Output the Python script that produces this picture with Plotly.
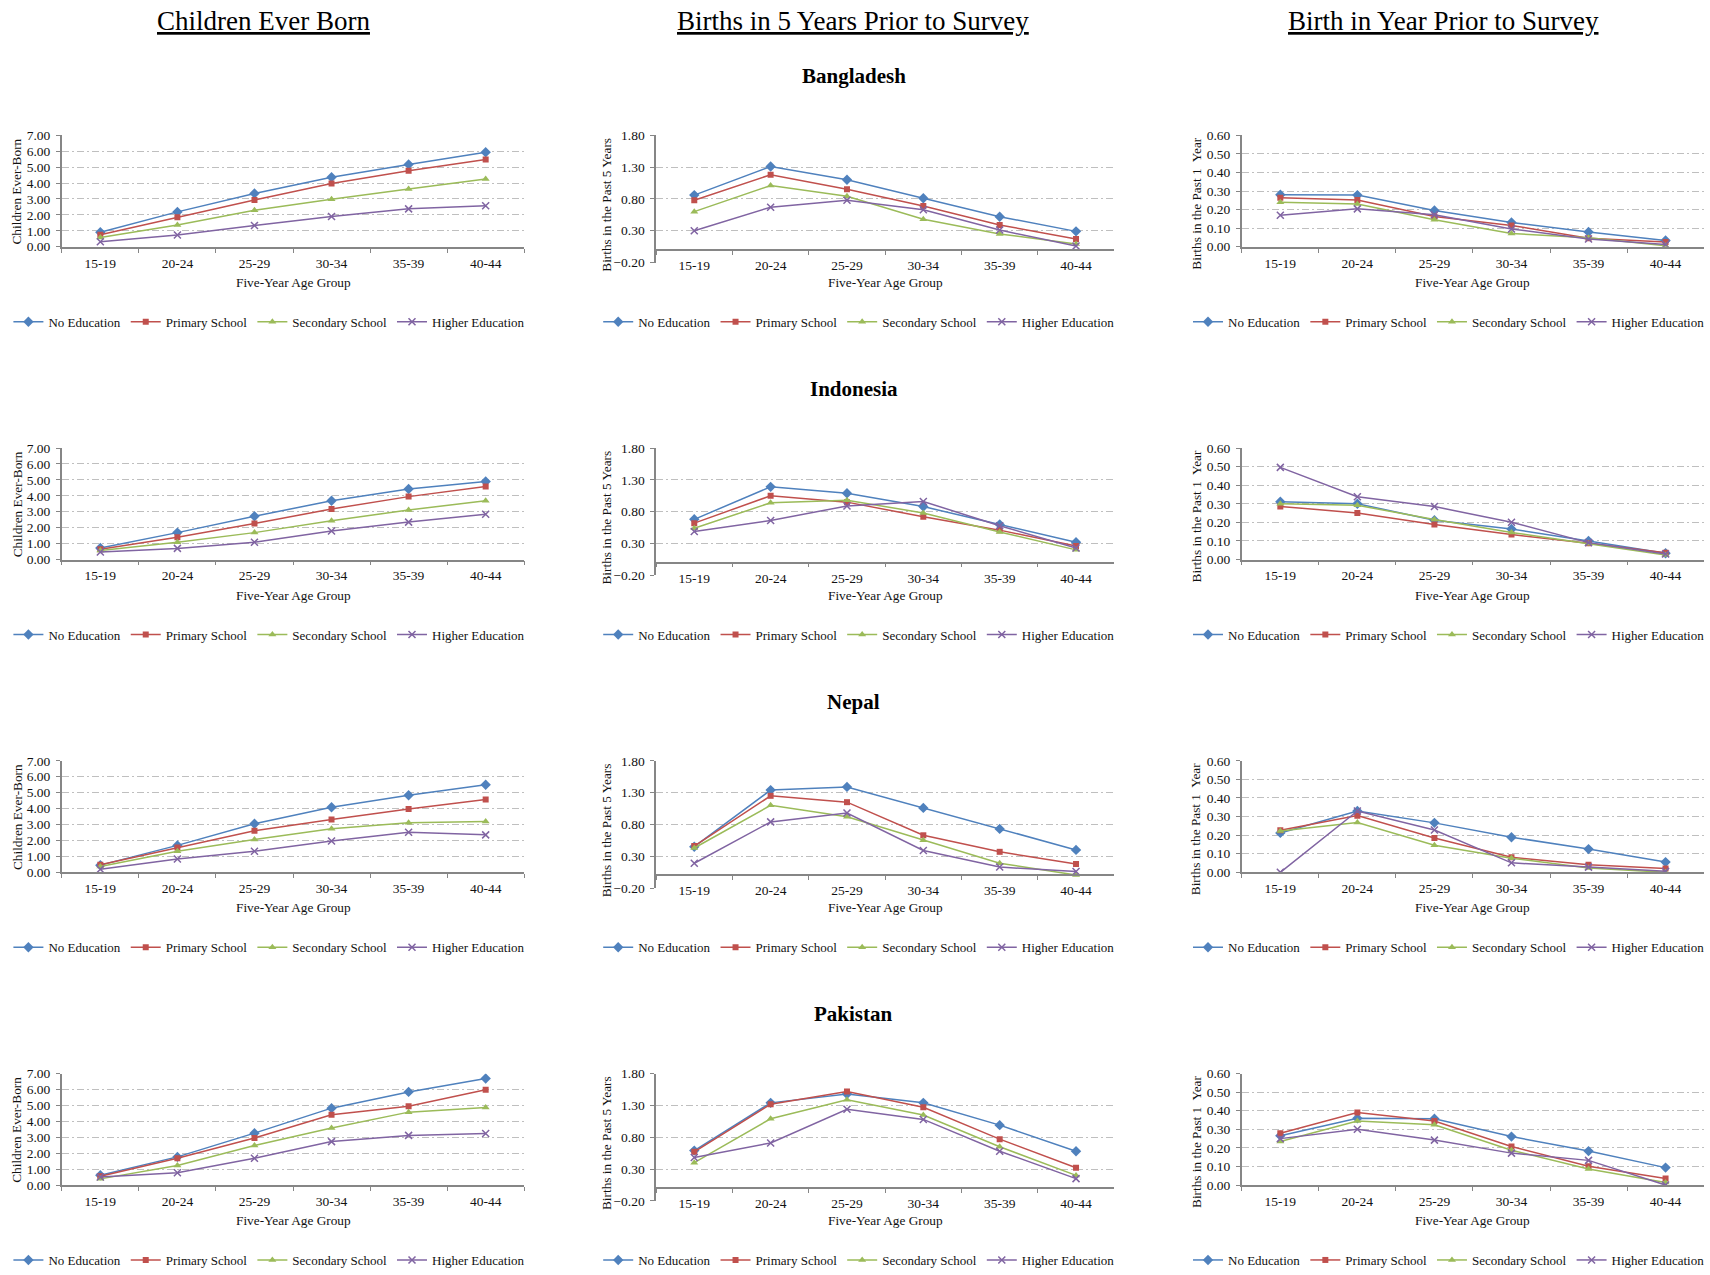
import plotly.graph_objects as go

# ---- categories and labels -------------------------------------------------
age_groups = ["15-19", "20-24", "25-29", "30-34", "35-39", "40-44"]
education_levels = ["No Education", "Primary School", "Secondary School", "Higher Education"]
countries = ["Bangladesh", "Indonesia", "Nepal", "Pakistan"]
column_titles = ["Children Ever Born", "Births in 5 Years Prior to Survey",
                 "Birth in Year Prior to Survey"]
y_titles = ["Children Ever-Born", "Births in the Past 5 Years", "Births in the Past 1  Year"]
x_title = "Five-Year Age Group"

# ---- values: rows follow education_levels, columns follow age_groups -------
bgd_ceb = [[0.91, 2.19, 3.35, 4.36, 5.17, 5.93],
           [0.76, 1.86, 2.93, 3.97, 4.77, 5.48],
           [0.58, 1.36, 2.29, 2.98, 3.62, 4.26],
           [0.31, 0.74, 1.34, 1.90, 2.38, 2.58]]
bgd_b5 = [[0.86, 1.31, 1.10, 0.81, 0.52, 0.29],
          [0.78, 1.18, 0.95, 0.69, 0.39, 0.17],
          [0.60, 1.01, 0.84, 0.48, 0.25, 0.09],
          [0.30, 0.67, 0.78, 0.63, 0.31, 0.06]]
bgd_b1 = [[0.280, 0.278, 0.195, 0.131, 0.080, 0.034],
          [0.264, 0.251, 0.163, 0.115, 0.046, 0.025],
          [0.239, 0.230, 0.145, 0.071, 0.048, 0.005],
          [0.170, 0.204, 0.172, 0.096, 0.042, 0.012]]

idn_ceb = [[0.72, 1.69, 2.72, 3.69, 4.43, 4.90],
           [0.64, 1.40, 2.26, 3.17, 3.95, 4.59],
           [0.56, 1.09, 1.69, 2.43, 3.11, 3.69],
           [0.47, 0.70, 1.09, 1.79, 2.35, 2.84]]
idn_b5 = [[0.68, 1.19, 1.09, 0.88, 0.60, 0.32],
          [0.62, 1.05, 0.95, 0.72, 0.51, 0.26],
          [0.54, 0.94, 0.98, 0.78, 0.48, 0.20],
          [0.49, 0.66, 0.89, 0.96, 0.58, 0.23]]
idn_b1 = [[0.311, 0.300, 0.212, 0.164, 0.100, 0.034],
          [0.286, 0.251, 0.189, 0.135, 0.087, 0.037],
          [0.300, 0.292, 0.215, 0.146, 0.085, 0.025],
          [0.496, 0.338, 0.285, 0.201, 0.091, 0.030]]

npl_ceb = [[0.45, 1.69, 3.05, 4.08, 4.84, 5.50],
           [0.47, 1.56, 2.61, 3.31, 3.97, 4.57],
           [0.37, 1.32, 2.06, 2.74, 3.11, 3.19],
           [0.19, 0.84, 1.32, 1.96, 2.51, 2.35]]
npl_b5 = [[0.45, 1.34, 1.39, 1.06, 0.73, 0.40],
          [0.46, 1.25, 1.15, 0.63, 0.37, 0.18],
          [0.43, 1.10, 0.92, 0.55, 0.19, 0.005],
          [0.19, 0.84, 0.98, 0.39, 0.13, 0.06]]
npl_b1 = [[0.212, 0.330, 0.266, 0.189, 0.125, 0.055],
          [0.226, 0.305, 0.185, 0.081, 0.041, 0.021],
          [0.222, 0.268, 0.146, 0.076, 0.023, 0.000],
          [0.000, 0.330, 0.228, 0.051, 0.028, 0.005]]

pak_ceb = [[0.62, 1.77, 3.26, 4.83, 5.85, 6.69],
           [0.55, 1.68, 2.96, 4.41, 4.95, 5.98],
           [0.39, 1.23, 2.48, 3.59, 4.58, 4.87],
           [0.51, 0.78, 1.68, 2.73, 3.12, 3.24]]
pak_b5 = [[0.59, 1.34, 1.48, 1.34, 0.99, 0.58],
          [0.57, 1.32, 1.52, 1.27, 0.77, 0.32],
          [0.40, 1.09, 1.39, 1.15, 0.65, 0.20],
          [0.48, 0.71, 1.24, 1.08, 0.58, 0.15]]
pak_b1 = [[0.266, 0.359, 0.357, 0.261, 0.183, 0.094],
          [0.279, 0.391, 0.345, 0.208, 0.101, 0.036],
          [0.234, 0.345, 0.325, 0.187, 0.087, 0.014],
          [0.250, 0.300, 0.242, 0.172, 0.133, 0.000]]

panels = [[bgd_ceb, bgd_b5, bgd_b1],
          [idn_ceb, idn_b5, idn_b1],
          [npl_ceb, npl_b5, npl_b1],
          [pak_ceb, pak_b5, pak_b1]]

# ---- styling ----------------------------------------------------------------
W, H = 1710, 1275
FONT = "Liberation Serif"
TXT = "#111111"
AXIS_GRAY = "#868686"
GRID_GRAY = "#BFBFBF"
GRID_DASH = "7px,3px,2px,3px"

series_style = [
    dict(color="#4F81BD", marker=dict(symbol="diamond", size=8, color="#4F81BD")),
    dict(color="#C0504D", marker=dict(symbol="square", size=6, color="#C0504D")),
    dict(color="#9BBB59", marker=dict(symbol="triangle-up", size=7, color="#9BBB59")),
    dict(color="#8064A2", marker=dict(symbol="x-thin", size=7, color="#8064A2",
                                      line=dict(color="#8064A2", width=1.5))),
]

y_ranges = [[0, 7], [-0.2, 1.8], [0, 0.6]]
y_tick0 = [0, -0.2, 0]
y_dtick = [1, 0.5, 0.1]

# pixel geometry of each column / row
col_x = [(61.8, 524.2), (656.1, 1114.2), (1241.8, 1704.1)]
col_h = [113, 129, 113]
ROW_STEP = 317
TOP0 = 130
ytitle_x = [17, 606.4, 1196.3]
ytitle_dy = [57, 70, 69]
legend_cx = [269.4, 859.2, 1449.3]
heading_x = [263.5, 852.8, 1443.5]
COUNTRY_X = 853.5

TICK_SIZE = 13.5
LABEL_SIZE = 13.3


def fx(px):
    return px / W


def fy(py):
    return 1 - py / H


fig = go.Figure()
annotations = []
layout = {}

for r in range(4):
    top = TOP0 + ROW_STEP * r
    for c in range(3):
        k = r * 3 + c + 1
        sfx = "" if k == 1 else str(k)
        x_id, y_id, leg_id = "x" + sfx, "y" + sfx, "legend" + sfx
        x0, x1 = col_x[c]
        bottom = top + col_h[c]
        lo, hi = y_ranges[c]
        zero_px = top + col_h[c] * hi / (hi - lo)

        for s, level in enumerate(education_levels):
            st = series_style[s]
            fig.add_trace(go.Scatter(
                x=age_groups, y=panels[r][c][s], name=level, mode="lines+markers",
                line=dict(color=st["color"], width=1.5), marker=st["marker"],
                xaxis=x_id, yaxis=y_id, legend=leg_id, hoverinfo="skip",
            ))

        xaxis = dict(
            domain=[fx(x0), fx(x1)], type="category", range=[-0.5, 5.5],
            tickson="boundaries", ticks="outside", ticklen=4, tickwidth=1,
            tickcolor=AXIS_GRAY, showline=True, linecolor=AXIS_GRAY, linewidth=1.5,
            showgrid=False, zeroline=False, fixedrange=True,
            tickfont=dict(family=FONT, size=TICK_SIZE, color=TXT), ticklabelstandoff=3,
        )
        if c == 1:
            # category axis crosses the value axis at zero
            xaxis.update(anchor="free", position=fy(zero_px))
        else:
            xaxis.update(anchor=y_id)
        layout["xaxis" + sfx] = xaxis

        layout["yaxis" + sfx] = dict(
            domain=[fy(bottom), fy(top)], anchor=x_id, range=[lo, hi],
            tick0=y_tick0[c], dtick=y_dtick[c], tickformat=".2f",
            ticks="outside", ticklen=4, tickwidth=1, tickcolor=AXIS_GRAY,
            showline=True, linecolor=AXIS_GRAY, linewidth=1.5,
            showgrid=True, gridcolor=GRID_GRAY, gridwidth=1, griddash=GRID_DASH,
            zeroline=False, fixedrange=True, ticklabelstandoff=3,
            tickfont=dict(family=FONT, size=TICK_SIZE, color=TXT),
        )

        layout[leg_id] = dict(
            orientation="h", x=fx(legend_cx[c]), y=fy(top + 189),
            xanchor="center", yanchor="middle", bgcolor="rgba(0,0,0,0)",
            font=dict(family=FONT, size=13, color=TXT), itemclick=False,
            itemdoubleclick=False,
        )

        # axis titles
        annotations.append(dict(
            text=x_title, x=fx((x0 + x1) / 2), y=fy(top + 149),
            xref="paper", yref="paper", showarrow=False,
            xanchor="center", yanchor="middle",
            font=dict(family=FONT, size=LABEL_SIZE, color=TXT),
        ))
        annotations.append(dict(
            text=y_titles[c], x=fx(ytitle_x[c]), y=fy(top + ytitle_dy[c]),
            xref="paper", yref="paper", showarrow=False, textangle=-90,
            xanchor="center", yanchor="middle",
            font=dict(family=FONT, size=LABEL_SIZE, color=TXT),
        ))

    # country heading above the middle column
    annotations.append(dict(
        text=countries[r], x=fx(COUNTRY_X), y=fy(top - 60),
        xref="paper", yref="paper", showarrow=False,
        xanchor="center", yanchor="middle",
        font=dict(family=FONT, size=21, color="#000000", weight="bold"),
    ))

# underlined column headings
for c, title in enumerate(column_titles):
    annotations.append(dict(
        text=title, x=fx(heading_x[c]), y=fy(TOP0 - 116),
        xref="paper", yref="paper", showarrow=False,
        xanchor="center", yanchor="middle",
        font=dict(family=FONT, size=27, color="#000000", lineposition="under"),
    ))

fig.update_layout(
    width=W, height=H, margin=dict(l=0, r=0, t=0, b=0),
    paper_bgcolor="white", plot_bgcolor="white",
    annotations=annotations, **layout,
)

fig.write_html("out.html")
